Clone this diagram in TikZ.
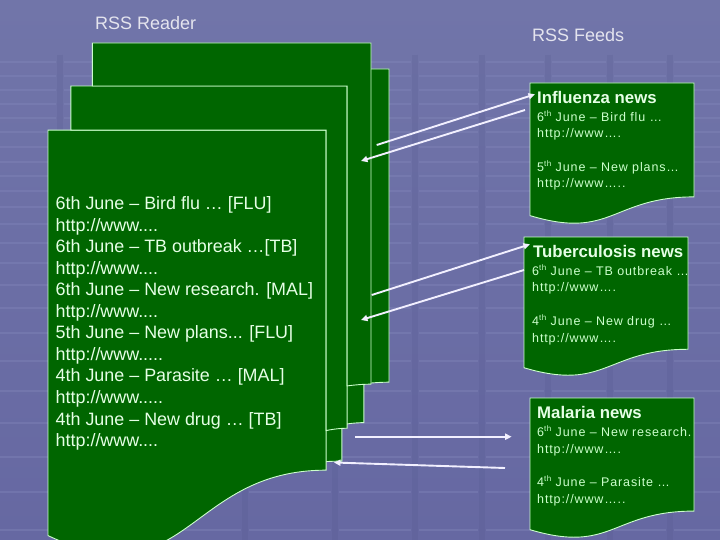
\documentclass[tikz,border=0pt]{standalone}
\usepackage{fontspec}
\setmainfont{Liberation Sans}
\usetikzlibrary{arrows.meta}
\definecolor{docgreen}{HTML}{006600}
\definecolor{docline}{HTML}{CCFFCC}
\definecolor{bgtop}{HTML}{7175A9}
\definecolor{bgmid}{HTML}{5C6094}
\definecolor{bgbot}{HTML}{6668A2}
\definecolor{barc}{HTML}{8286BA}
\definecolor{postc}{HTML}{50548A}
\definecolor{arrowc}{HTML}{F2F0FF}
\definecolor{titlec}{HTML}{E4E4EE}
\definecolor{listc}{HTML}{E6FFE6}
\definecolor{subc}{HTML}{CCFFCC}
\newcommand\supth[1]{\raisebox{.38em}{\fontsize{8}{8}\selectfont #1}}
\newcommand\mdocdraw[4]{%
 \begin{scope}[shift={(#1,#2)},x=#3pt,y=-#4pt]
  \path[docshape] (0,0.9621) .. controls (0.4305,1.0899) and (0.4305,0.8343) .. (0.8609,0.8343)
     -- (0.8609,0.1701) -- (0,0.1701) -- cycle;
  \path[docshape] (0.0709,0.1701) -- (0.0709,0.0840) -- (0.9259,0.0840) -- (0.9259,0.7524)
     .. controls (0.8934,0.7524) and (0.8609,0.7570) .. (0.8609,0.7570) -- (0.8609,0.1701) -- cycle;
  \path[docshape] (0.1376,0.0840) -- (0.1376,0) -- (1,0) -- (1,0.6663)
     .. controls (0.9630,0.6663) and (0.9259,0.6698) .. (0.9259,0.6698) -- (0.9259,0.0840) -- cycle;
 \end{scope}}
\newcommand\fdocdraw[4]{%
 \begin{scope}[shift={(#1,#2)},x=#3pt,y=-#4pt]
  \path[docshape] (0,0) -- (1,0) -- (1,0.8020) .. controls (0.5,0.8020) and (0.5,1.1075) .. (0,0.9339) -- cycle;
 \end{scope}}
\tikzset{
 docshape/.style={fill=docgreen,draw=docline,line width=0.9pt,line join=miter},
 conn/.style={draw=arrowc,line width=1.9pt,-{Triangle[length=6.5pt,width=6pt]}},
 headtext/.style={anchor=base west,inner sep=0pt,text=titlec,font=\fontsize{18}{20}\selectfont},
 listline/.style={anchor=base west,inner sep=0pt,text=listc,font=\fontsize{17.9}{20}\selectfont},
 feedtitle/.style={anchor=base west,inner sep=0pt,text=listc,font=\fontsize{16.8}{20}\selectfont\bfseries},
 feedline/.style={anchor=base west,inner sep=0pt,text=subc,font=\fontsize{12.5}{14}\selectfont\addfontfeature{LetterSpace=7}},
}
\begin{document}
\begin{tikzpicture}[x=1pt,y=-1pt]
\useasboundingbox (0,0) rectangle (720,540);
\clip (0,0) rectangle (720,540);
% background
\shade[top color=bgtop,middle color=bgmid,bottom color=bgbot] (0,0) rectangle (720,540);
\foreach \yy in {62,76,90,104,118,132,147,162,176,191,207,224,243,263,285,308,333,361,391,423,457,492,530}{
  \foreach \xa/\xb in {0/56,64/146,154/241,249/331,339/411,419/478,486/544,552/606,614/666,674/720}{
    \draw[barc,opacity=0.4,line width=2.2pt] (\xa,\yy) -- (\xb,\yy);
  }
}
\foreach \xx in {60,150,245,335,415,482,548,610,670}{
  \draw[postc,opacity=0.18,line width=6pt] (\xx,55) -- (\xx,540);
}
% titles
\node[headtext] (readerT) at (95,30) {RSS Reader};
\node[headtext] (feedsT) at (532,41.7) {RSS Feeds};
% reader stacks
\mdocdraw{50}{69}{339}{470}
\mdocdraw{48}{43}{323}{512}
% feed documents
\fdocdraw{530}{83}{164}{142}
\fdocdraw{524}{237}{164}{140}
\fdocdraw{530}{398}{164}{141}
% reader list
\node[listline] (l0) at (55.5,209.5) {6th June – Bird flu … [FLU]};
\node[listline] (l1) at (55.5,231.06) {http://www....};
\node[listline] (l2) at (55.5,252.62) {6th June – TB outbreak …[TB]};
\node[listline] (l3) at (55.5,274.18) {http://www....};
\node[listline] (l4) at (55.5,295.74) {6th June – New research. [MAL]};
\node[listline] (l5) at (55.5,317.3) {http://www....};
\node[listline] (l6) at (55.5,338.86) {5th June – New plans... [FLU]};
\node[listline] (l7) at (55.5,360.42) {http://www.....};
\node[listline] (l8) at (55.5,381.98) {4th June – Parasite … [MAL]};
\node[listline] (l9) at (55.5,403.54) {http://www.....};
\node[listline] (l10) at (55.5,425.1) {4th June – New drug … [TB]};
\node[listline] (l11) at (55.5,446.66) {http://www....};
% influenza
\node[feedtitle] (fluT) at (537,104) {Influenza news};
\node[feedline] (flu1) at (537,121.5) {6\supth{th} June – Bird flu …};
\node[feedline] (flu2) at (537,138) {http://www….};
\node[feedline] (flu3) at (537,171.5) {5\supth{th} June – New plans…};
\node[feedline] (flu4) at (537,188) {http://www…..};
% tuberculosis
\node[feedtitle] (tbT) at (533,257) {Tuberculosis news};
\node[feedline] (tb1) at (532,275) {6\supth{th} June – TB outbreak …};
\node[feedline] (tb2) at (532,291.7) {http://www….};
\node[feedline] (tb3) at (532,325.5) {4\supth{th} June – New drug …};
\node[feedline] (tb4) at (532,342) {http://www….};
% malaria
\node[feedtitle] (malT) at (537,418.3) {Malaria news};
\node[feedline] (mal1) at (537,436.7) {6\supth{th} June – New research.};
\node[feedline] (mal2) at (537,453.3) {http://www….};
\node[feedline] (mal3) at (537,486.7) {4\supth{th} June – Parasite …};
\node[feedline] (mal4) at (537,503.3) {http://www…..};
% arrow end points
\coordinate (r1) at (376.7,145);   \coordinate (f1) at (535,94.3);
\coordinate (f2) at (525,110);     \coordinate (r2) at (361,161);
\coordinate (r3) at (371.7,295);   \coordinate (f3) at (530,244.3);
\coordinate (f4) at (524,270);     \coordinate (r4) at (361,320);
\coordinate (r5) at (355,436.7);   \coordinate (f5) at (511.7,436.7);
\coordinate (f6) at (505,468);     \coordinate (r6) at (334,462.5);
\draw[conn] (r1) -- (f1);
\draw[conn] (f2) -- (r2);
\draw[conn] (r3) -- (f3);
\draw[conn] (f4) -- (r4);
\draw[conn] (r5) -- (f5);
\draw[conn] (f6) -- (r6);
\end{tikzpicture}
\end{document}
